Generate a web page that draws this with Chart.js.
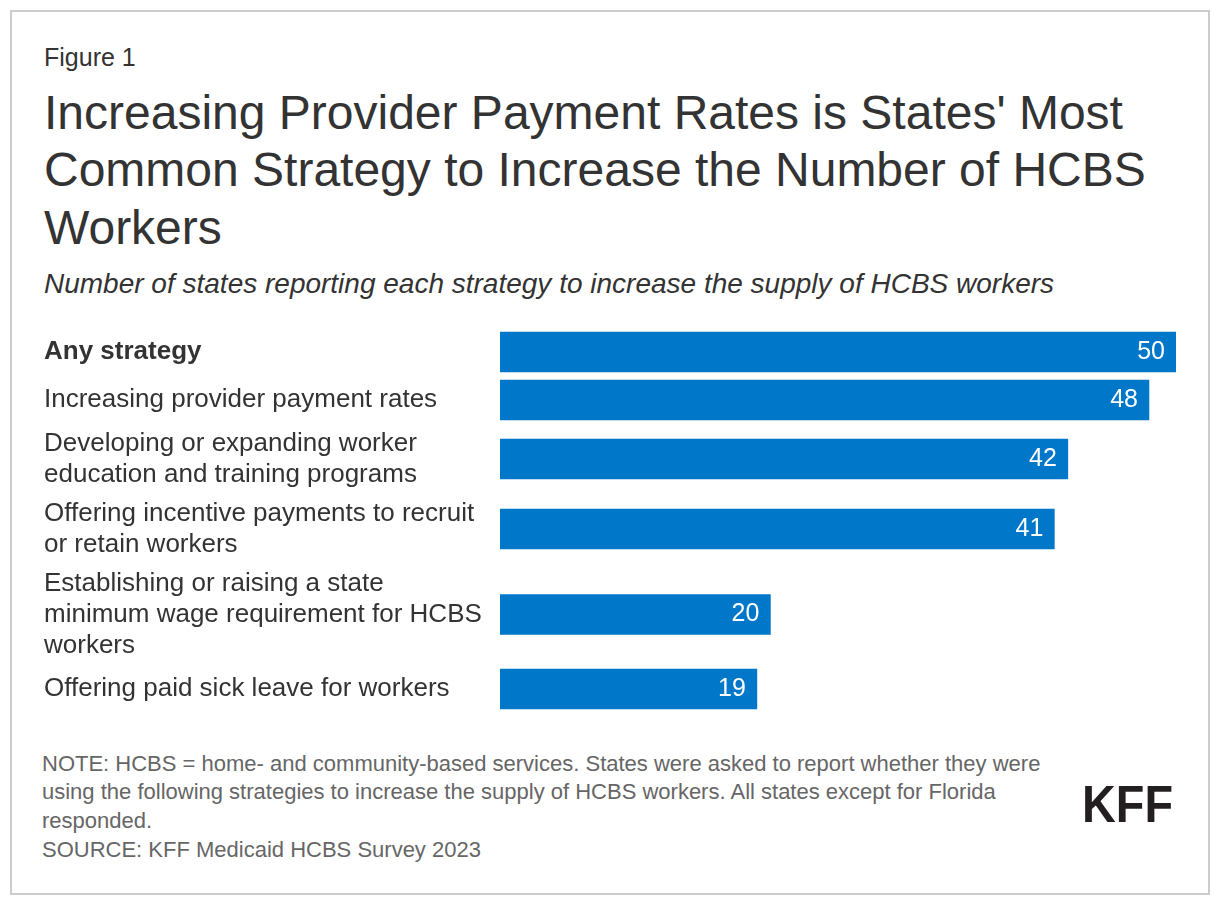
<!DOCTYPE html>
<html>
<head>
<meta charset="utf-8">
<script src="https://cdn.jsdelivr.net/npm/chart.js@4.4.1/dist/chart.umd.min.js"></script>
<style>
  html, body { margin: 0; padding: 0; background: #fff; }
  body { width: 1220px; height: 908px; position: relative; overflow: hidden;
         font-family: "Liberation Sans", Arial, Helvetica, sans-serif; }
  .frame { position: absolute; left: 10px; top: 10px; width: 1200px; height: 885px;
           box-sizing: border-box; border: 2px solid #cccccc; }
  .t { position: absolute; left: 44px; white-space: nowrap; margin: 0; }
  #fig { top: 42px; font-size: 25px; line-height: 30px; color: #333; }
  #title { top: 84px; font-size: 48px; line-height: 57.3px; color: #333; }
  #sub { top: 266.6px; font-size: 28px; line-height: 34px; color: #333; font-style: italic; }
  #note { left: 42px; top: 749.6px; font-size: 22px; line-height: 28.8px; color: #666; }
  #logo { position: absolute; left: 1082px; top: 772px; font-size: 52px; line-height: 64px;
          font-weight: bold; color: #231f20; transform: scaleX(0.9); transform-origin: left center; }
  #wrap { position: absolute; left: 44px; top: 328px; width: 1132px; height: 385px; }
</style>
</head>
<body>
<div class="frame"></div>
<div class="t" id="fig">Figure 1</div>
<div class="t" id="title">Increasing Provider Payment Rates is States' Most<br>Common Strategy to Increase the Number of HCBS<br>Workers</div>
<div class="t" id="sub">Number of states reporting each strategy to increase the supply of HCBS workers</div>
<div class="t" id="note">NOTE: HCBS = home- and community-based services. States were asked to report whether they were<br>using the following strategies to increase the supply of HCBS workers. All states except for Florida<br>responded.<br>SOURCE: KFF Medicaid HCBS Survey 2023</div>
<div id="logo">KFF</div>
<div id="wrap"><canvas id="c"></canvas></div>
<script>
// ---- data ----
const categories = [
  ["Any strategy"],
  ["Increasing provider payment rates"],
  ["Developing or expanding worker", "education and training programs"],
  ["Offering incentive payments to recruit", "or retain workers"],
  ["Establishing or raising a state", "minimum wage requirement for HCBS", "workers"],
  ["Offering paid sick leave for workers"]
];
const values = [50, 48, 42, 41, 20, 19];
const xMax = 50;

// ---- layout of rows derived from label line counts ----
const LINE_H = 31, BAR_H = 40, GAP = 8, AXIS_W = 456;
const rowHeights = categories.map(l => Math.max(BAR_H, l.length * LINE_H) + GAP);
const rowCenters = [];
let acc = 0;
rowHeights.forEach(h => { rowCenters.push(acc + h / 2); acc += h; });
const totalH = acc;

const FONT = '"Liberation Sans", Arial, sans-serif';

const labelsPlugin = {
  id: 'labelsPlugin',
  afterDatasetsDraw(chart) {
    const ctx = chart.ctx;
    const yScale = chart.scales.y;
    const meta = chart.getDatasetMeta(0);
    ctx.save();
    ctx.textBaseline = 'middle';
    // category labels
    ctx.textAlign = 'left';
    ctx.fillStyle = '#333333';
    const x0 = chart.chartArea.left - AXIS_W;
    categories.forEach((lines, i) => {
      const py = yScale.getPixelForValue(rowCenters[i]);
      ctx.font = (i === 0 ? 'bold ' : '') + '26px ' + FONT;
      const start = py - (lines.length - 1) * LINE_H / 2;
      lines.forEach((ln, j) => ctx.fillText(ln, x0, start + j * LINE_H));
    });
    // value labels
    ctx.fillStyle = '#ffffff';
    ctx.font = '25px ' + FONT;
    ctx.textAlign = 'right';
    meta.data.forEach((bar, i) => {
      ctx.fillText(String(values[i]), bar.x - 11, bar.y);
    });
    ctx.restore();
  }
};

new Chart(document.getElementById('c'), {
  type: 'bar',
  data: {
    datasets: [{
      data: values.map((v, i) => ({ x: v, y: rowCenters[i] })),
      backgroundColor: '#0077c8',
      borderWidth: 0,
      barThickness: BAR_H
    }]
  },
  options: {
    indexAxis: 'y',
    responsive: true,
    maintainAspectRatio: false,
    animation: false,
    layout: { padding: 0, autoPadding: false },
    plugins: { legend: { display: false }, tooltip: { enabled: false } },
    scales: {
      x: { type: 'linear', min: 0, max: xMax, display: false },
      y: {
        type: 'linear', min: 0, max: totalH, reverse: true, offset: false,
        grid: { display: false }, border: { display: false },
        ticks: { display: false },
        afterFit(scale) { scale.width = AXIS_W; }
      }
    }
  },
  plugins: [labelsPlugin]
});
</script>
</body>
</html>
